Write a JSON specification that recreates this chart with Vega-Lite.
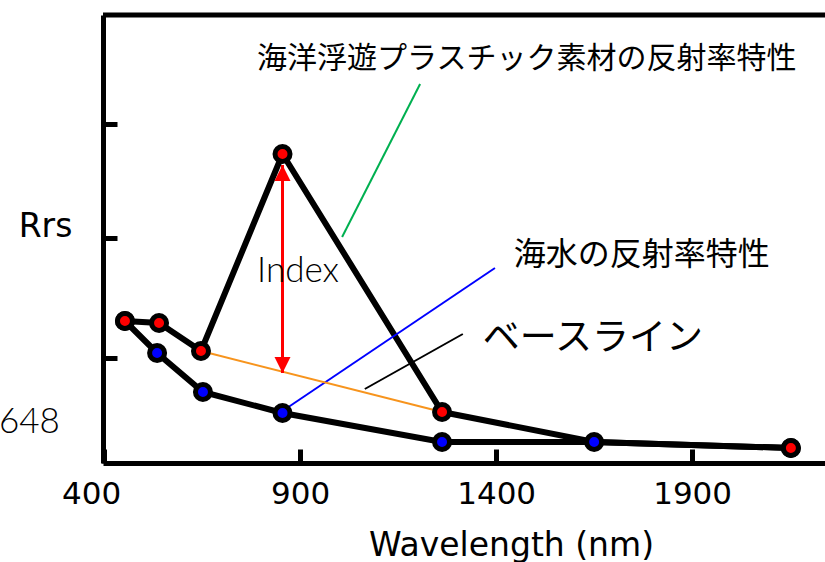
{
  "$schema": "https://vega.github.io/schema/vega-lite/v6.json",
  "width": 722,
  "height": 448,
  "autosize": {"type": "none"},
  "padding": {"left": 103, "top": 15, "right": 0, "bottom": 99},
  "background": "white",
  "config": {
    "view": {"stroke": null},
    "axis": {
      "grid": false,
      "domainColor": "black",
      "domainWidth": 5,
      "tickColor": "black",
      "tickWidth": 5,
      "tickSize": -14,
      "labelColor": "black",
      "titleColor": "black",
      "labelFont": "DejaVu Sans",
      "titleFont": "DejaVu Sans",
      "titleFontWeight": "normal"
    }
  },
  "datasets": {
    "spectra": [
      {"series": "seawater", "wl": 453, "r": 0.0142},
      {"series": "seawater", "wl": 535, "r": 0.0110},
      {"series": "seawater", "wl": 652, "r": 0.0071},
      {"series": "seawater", "wl": 855, "r": 0.0050},
      {"series": "seawater", "wl": 1262, "r": 0.0021},
      {"series": "seawater", "wl": 1650, "r": 0.0021},
      {"series": "seawater", "wl": 2152, "r": 0.0015},
      {"series": "plastic", "wl": 453, "r": 0.0142},
      {"series": "plastic", "wl": 540, "r": 0.0140},
      {"series": "plastic", "wl": 647, "r": 0.0112},
      {"series": "plastic", "wl": 855, "r": 0.0309},
      {"series": "plastic", "wl": 1262, "r": 0.0051},
      {"series": "plastic", "wl": 1650, "r": 0.0021},
      {"series": "plastic", "wl": 2152, "r": 0.0015}
    ],
    "guides": [
      {"id": "green", "wl": 1007, "r": 0.0226},
      {"id": "green", "wl": 1206, "r": 0.0379},
      {"id": "blue", "wl": 855, "r": 0.0052},
      {"id": "blue", "wl": 1397, "r": 0.0195},
      {"id": "black", "wl": 1065, "r": 0.0074},
      {"id": "black", "wl": 1315, "r": 0.0129},
      {"id": "orange", "wl": 647, "r": 0.0112},
      {"id": "orange", "wl": 1262, "r": 0.0051}
    ]
  },
  "layer": [
    {
      "data": {"name": "spectra"},
      "mark": {"type": "line", "color": "black", "strokeWidth": 6},
      "encoding": {
        "x": {
          "field": "wl", "type": "quantitative",
          "scale": {"domain": [397, 2239], "nice": false, "zero": false},
          "axis": {
            "values": [400, 900, 1400, 1900],
            "format": "d",
            "labelFontSize": 31,
            "labelPadding": 30,
            "labelOffset": {"condition": {"test": "datum.value == 400", "value": -13}, "value": 0},
            "title": "Wavelength (nm)",
            "titleFontSize": 33,
            "titleX": 408,
            "titleY": 92,
            "titleAlign": "center",
            "titleBaseline": "alphabetic"
          }
        },
        "y": {
          "field": "r", "type": "quantitative",
          "scale": {"domain": [0, 0.0448], "nice": false, "zero": false},
          "axis": {
            "values": [0.0105, 0.0225, 0.0339],
            "labels": false,
            "title": "Rrs",
            "titleAngle": 0,
            "titleFontSize": 33,
            "titleX": -58,
            "titleY": 211,
            "titleAlign": "center",
            "titleBaseline": "middle"
          }
        },
        "detail": {"field": "series"}
      }
    },
    {
      "data": {"values": [{"r": 0.0448}]},
      "mark": {"type": "rule", "color": "black", "strokeWidth": 5},
      "encoding": {
        "y": {"field": "r", "type": "quantitative"}
      }
    },
    {
      "data": {"name": "guides"},
      "mark": {"type": "line", "strokeWidth": 2},
      "encoding": {
        "x": {"field": "wl", "type": "quantitative"},
        "y": {"field": "r", "type": "quantitative"},
        "detail": {"field": "id"},
        "color": {"field": "id", "type": "nominal", "scale": {"domain": ["green", "blue", "black", "orange"], "range": ["#00B050", "#0000FF", "#000000", "#F7941D"]}, "legend": null}
      }
    },
    {
      "data": {"values": [{"wl": 855, "r": 0.0298, "r2": 0.0090}]},
      "mark": {"type": "rule", "color": "#FF0000", "strokeWidth": 3},
      "encoding": {
        "x": {"field": "wl", "type": "quantitative"},
        "y": {"field": "r", "type": "quantitative"},
        "y2": {"field": "r2"}
      }
    },
    {
      "data": {"values": [{"wl": 855, "r": 0.0290, "dir": "up"}, {"wl": 855, "r": 0.0098, "dir": "down"}]},
      "mark": {"type": "point", "filled": true, "color": "#FF0000", "opacity": 1, "size": 256},
      "encoding": {
        "x": {"field": "wl", "type": "quantitative"},
        "y": {"field": "r", "type": "quantitative"},
        "shape": {"field": "dir", "type": "nominal", "scale": {"domain": ["up", "down"], "range": ["M0,-1L1,1L-1,1Z", "M0,1L1,-1L-1,-1Z"]}, "legend": null}
      }
    },
    {
      "data": {"name": "spectra"},
      "transform": [{"filter": "!(datum.series == 'plastic' && datum.wl == 1650)"}],
      "mark": {"type": "circle", "size": 225, "stroke": "black", "strokeWidth": 5, "opacity": 1},
      "encoding": {
        "x": {"field": "wl", "type": "quantitative"},
        "y": {"field": "r", "type": "quantitative"},
        "fill": {"field": "series", "type": "nominal", "scale": {"domain": ["seawater", "plastic"], "range": ["#0000FF", "#FF0000"]}, "legend": null}
      }
    },
    {
      "data": {"values": [{"label": "海洋浮遊プラスチック素材の反射率特性", "wl": 790, "r": 0.0404}]},
      "mark": {"type": "text", "font": "Noto Sans CJK JP", "fontSize": 30, "align": "left", "baseline": "middle", "color": "black"},
      "encoding": {
        "x": {"field": "wl", "type": "quantitative"},
        "y": {"field": "r", "type": "quantitative"},
        "text": {"field": "label"}
      }
    },
    {
      "data": {"values": [{"label": "海水の反射率特性", "wl": 1445, "r": 0.0208}]},
      "mark": {"type": "text", "font": "Noto Sans CJK JP", "fontSize": 32, "align": "left", "baseline": "middle", "color": "black"},
      "encoding": {
        "x": {"field": "wl", "type": "quantitative"},
        "y": {"field": "r", "type": "quantitative"},
        "text": {"field": "label"}
      }
    },
    {
      "data": {"values": [{"label": "ベースライン", "wl": 1366, "r": 0.0124}]},
      "mark": {"type": "text", "font": "Noto Sans CJK JP", "fontSize": 37, "align": "left", "baseline": "middle", "color": "black"},
      "encoding": {
        "x": {"field": "wl", "type": "quantitative"},
        "y": {"field": "r", "type": "quantitative"},
        "text": {"field": "label"}
      }
    },
    {
      "data": {"values": [{"label": "Index", "wl": 790, "r": 0.0181, "align": "left"}, {"label": "648", "wl": 287, "r": 0.0030, "align": "right"}]},
      "mark": {"type": "text", "font": "Lato", "fontWeight": 300, "fontSize": 35, "baseline": "alphabetic", "color": "black", "align": {"expr": "datum.align"}},
      "encoding": {
        "x": {"field": "wl", "type": "quantitative"},
        "y": {"field": "r", "type": "quantitative"},
        "text": {"field": "label"}
      }
    }
  ]
}
